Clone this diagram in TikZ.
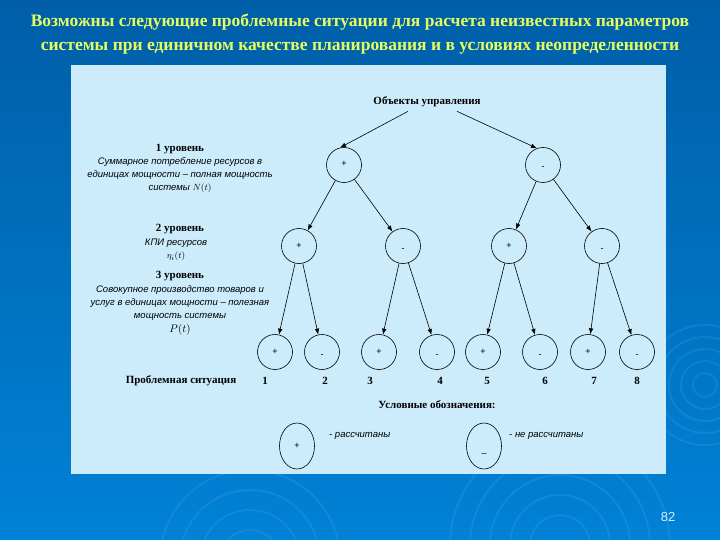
\documentclass[tikz,border=0pt]{standalone}
\usepackage{fontspec}
\setmainfont{Liberation Serif}
\newfontfamily\slfont{Liberation Sans}
\usetikzlibrary{arrows.meta,positioning,shapes.geometric}
\definecolor{slidetop}{RGB}{0,94,168}
\definecolor{slidebot}{RGB}{0,130,214}
\definecolor{panel}{RGB}{204,236,251}
\definecolor{titlecol}{RGB}{228,255,96}
\definecolor{pagecol}{RGB}{210,240,255}
\newcommand{\mns}{\raisebox{-3pt}{-}}

\begin{document}
\begin{tikzpicture}[
    x=1pt, y=-1pt,
    inner sep=1pt, %small nodes
    st/.style={circle,draw=black,line width=0.6pt,minimum size=35pt,
        text height=4pt,text depth=0pt,
        font=\slfont\fontsize{9}{10}\selectfont},
    lg/.style={ellipse,draw=black,line width=0.6pt,minimum width=35pt,
        minimum height=46pt,text height=4pt,text depth=0pt,
        font=\slfont\fontsize{9}{10}\selectfont},
    lvl/.style={font=\bfseries\fontsize{11}{12}\selectfont},
    dsc/.style={align=center,
        font=\slfont\itshape\fontsize{9.5}{13}\selectfont},
    num/.style={font=\bfseries\fontsize{11}{12}\selectfont},
    edge/.style={line width=0.6pt,->},
    swirl/.style={draw=white,opacity=0.07,line width=2pt},
    >={Latex[length=6pt,width=4.5pt]},
    ]
    % slide background
    \useasboundingbox (0,0) rectangle (720,540);
    \shade[top color=slidetop,bottom color=slidebot] (0,0) rectangle (720,540);
    \begin{scope}
        \clip (0,0) rectangle (720,540);
        \foreach \r in {12,24,36,48,60}
            \draw[swirl] (705,385) circle (\r);
        \foreach \r in {30,50,70,90}
            \draw[swirl] (250,560) circle (\r);
        \foreach \r in {30,50,70,90,110}
            \draw[swirl] (560,545) circle (\r);
    \end{scope}
    \node[font=\bfseries\fontsize{17.5}{24}\selectfont,text=titlecol,
        align=center] (title) at (360,34)
        {Возможны следующие проблемные ситуации для расчета неизвестных параметров\\
         системы при единичном качестве планирования и в условиях неопределенности};
    \fill[panel] (71,65) rectangle (666,474);
    \node[pagecol,font=\slfont\fontsize{13}{14}\selectfont] (page) at (668,517) {82};

    % levels
    \node[lvl] (obj) at (427,102) {Объекты управления};
    \node[lvl] (l1) at (180,149) {1 уровень};
    \node[dsc] (d1) at (180,175) {Суммарное потребление ресурсов в\\
        единицах мощности – полная мощность\\системы $N(t)$};
    \node[lvl] (l2) at (180,229) {2 уровень};
    \node[dsc] (d2) at (176,250) {КПИ ресурсов\\$\eta_i(t)$};
    \node[lvl] (l3) at (180,276) {3 уровень};
    \node[dsc] (d3) at (180,303) {Совокупное производство товаров и\\
        услуг в единицах мощности – полезная\\мощность системы};
    \node[font=\fontsize{11}{12}\selectfont] (pt) at (180,330) {$P(t)$};

    \node[st] (a1) at (344,165) {+};
    \node[st] (a2) at (543,165) {\mns};
    \node[st] (b1) at (299,246) {+};
    \node[st] (b2) at (403,246) {\mns};
    \node[st] (b3) at (509,246) {+};
    \node[st] (b4) at (602,246) {\mns};
    \node[st] (c1) at (275,352) {+};
    \node[st] (c2) at (322,352) {\mns};
    \node[st] (c3) at (379,352) {+};
    \node[st] (c4) at (437,352) {\mns};
    \node[st] (c5) at (483,352) {+};
    \node[st] (c6) at (540,352) {\mns};
    \node[st] (c7) at (588,352) {+};
    \node[st] (c8) at (637,352) {\mns};

    \draw[edge] ([xshift=-19pt,yshift=-3pt]obj.south) -- (a1.103);
    \draw[edge] ([xshift=30pt,yshift=-3pt]obj.south) -- (a2.110);
    \draw[edge] (a1) -- (b1);
    \draw[edge] (a1) -- (b2);
    \draw[edge] (a2) -- (b3);
    \draw[edge] (a2) -- (b4);
    \draw[edge] (b1) -- (c1);
    \draw[edge] (b1) -- (c2);
    \draw[edge] (b2) -- (c3);
    \draw[edge] (b2) -- (c4);
    \draw[edge] (b3) -- (c5);
    \draw[edge] (b3) -- (c6);
    \draw[edge] (b4) -- (c7);
    \draw[edge] (b4) -- (c8);

    % problem situations
    \node[num] (ps) at (181,381) {Проблемная ситуация};
    \node[num] (n1) at (265,381) {1};
    \node[num] (n2) at (325,381) {2};
    \node[num] (n3) at (370,381) {3};
    \node[num] (n4) at (440,381) {4};
    \node[num] (n5) at (487,381) {5};
    \node[num] (n6) at (545,381) {6};
    \node[num] (n7) at (594,381) {7};
    \node[num] (n8) at (637,381) {8};

    % legend
    \node[num] (leg) at (437,405) {Условные обозначения:};
    \node[lg] (lp) at (297,446) {+};
    \node[lg] (lm) at (484,446) {\raisebox{-8pt}{–}};
    \node[dsc,anchor=west] (tp) at (328,436) {- рассчитаны};
    \node[dsc,anchor=west] (tm) at (508,436) {- не рассчитаны};
\end{tikzpicture}
\end{document}
